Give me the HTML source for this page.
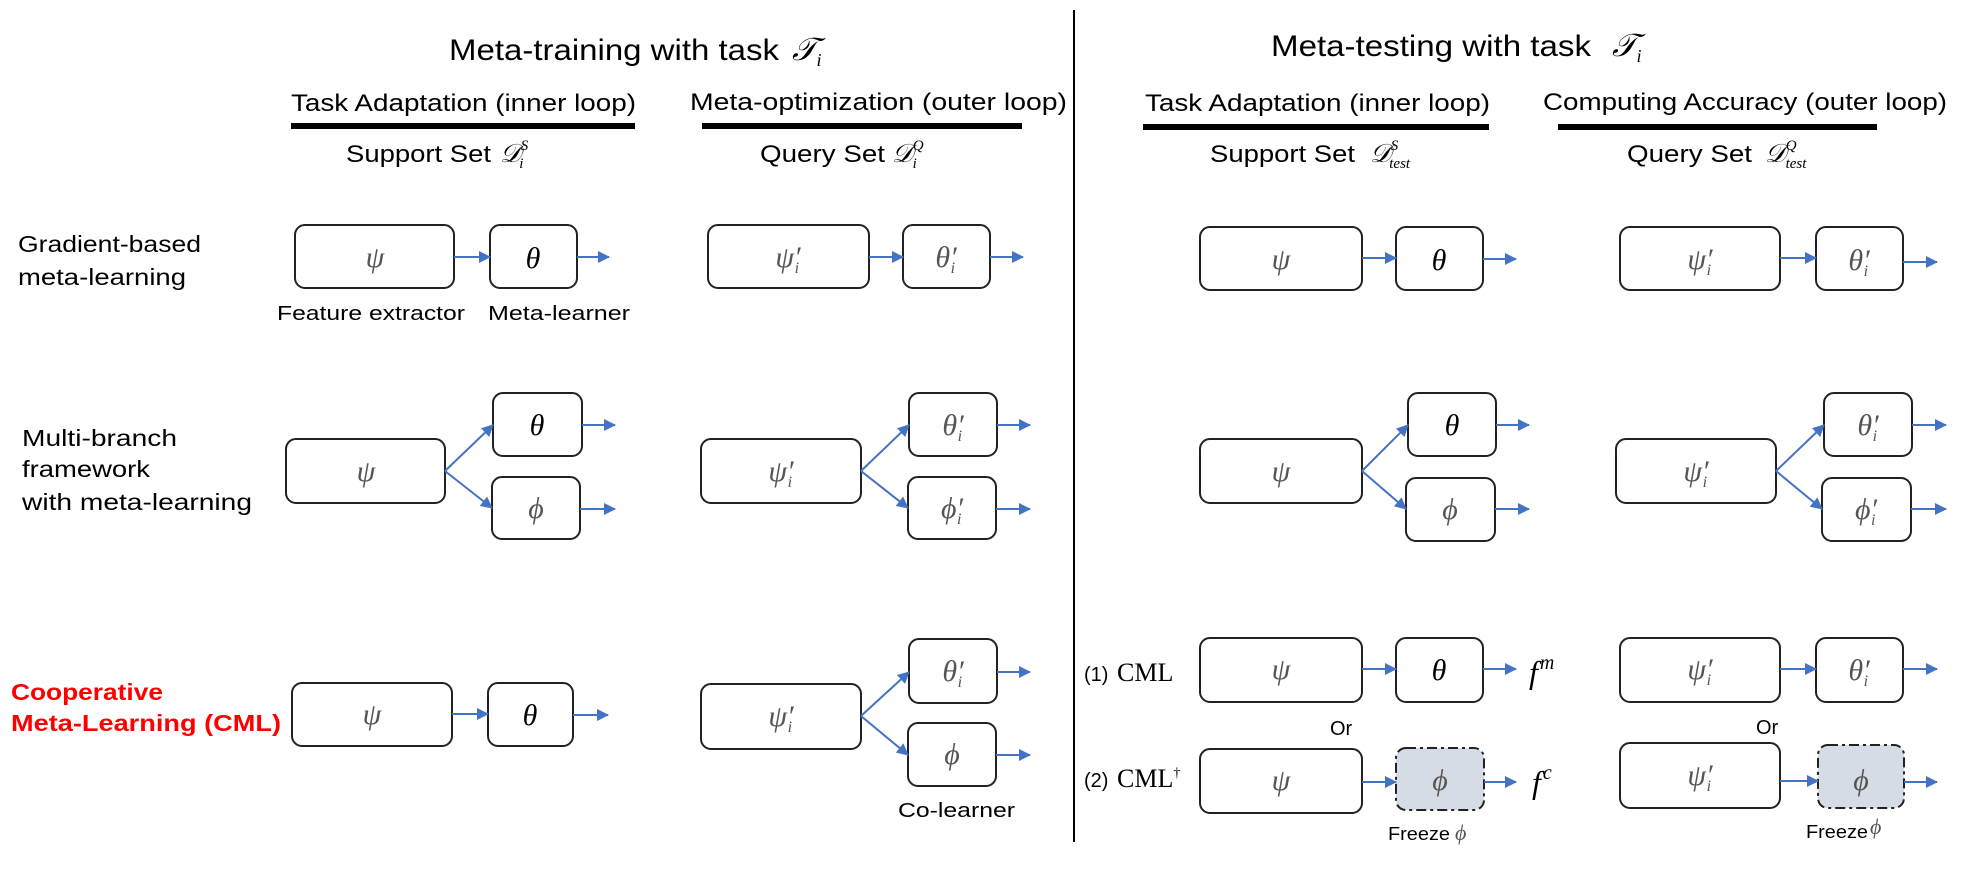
<!DOCTYPE html>
<html><head><meta charset="utf-8"><style>
html,body{margin:0;padding:0;background:#fff;}
svg{display:block}
text{font-family:"Liberation Sans",sans-serif;fill:#000}
.m{font-family:"Liberation Serif",serif;font-style:italic}
.g{fill:#555}
</style></head><body>
<svg width="1980" height="882" viewBox="0 0 1980 882" xmlns="http://www.w3.org/2000/svg">
<defs>
<marker id="a" markerWidth="12" markerHeight="12" refX="11" refY="6" orient="auto" markerUnits="userSpaceOnUse" viewBox="0 0 12 12"><path d="M0,0L12,6L0,12z" fill="#4472c4"/></marker>
</defs>
<line x1="1074" y1="10" x2="1074" y2="842" stroke="#000" stroke-width="2"/>
<text x="449" y="60" font-size="30" textLength="330" lengthAdjust="spacingAndGlyphs">Meta-training with task</text>
<text x="792" y="60" font-size="32" class="m">𝒯<tspan font-size="18" dy="6">i</tspan></text>
<text x="1271" y="56" font-size="30" textLength="320" lengthAdjust="spacingAndGlyphs">Meta-testing with task</text>
<text x="1612" y="56" font-size="32" class="m">𝒯<tspan font-size="18" dy="6">i</tspan></text>
<text x="291" y="111" font-size="24" textLength="345" lengthAdjust="spacingAndGlyphs">Task Adaptation (inner loop)</text>
<text x="690" y="110" font-size="24" textLength="377" lengthAdjust="spacingAndGlyphs">Meta-optimization (outer loop)</text>
<text x="1145" y="111" font-size="24" textLength="345" lengthAdjust="spacingAndGlyphs">Task Adaptation (inner loop)</text>
<text x="1543" y="110" font-size="24" textLength="404" lengthAdjust="spacingAndGlyphs">Computing Accuracy (outer loop)</text>
<rect x="291" y="123" width="344" height="6"/>
<rect x="702" y="123" width="320" height="6"/>
<rect x="1143" y="124" width="346" height="6"/>
<rect x="1558" y="124" width="319" height="6"/>
<text x="346" y="162" font-size="24" textLength="145" lengthAdjust="spacingAndGlyphs">Support Set</text>
<text x="500" y="162" font-size="26" class="m">𝒟<tspan font-size="15" dy="-12">S</tspan><tspan font-size="15" dx="-9" dy="18">i</tspan></text>
<text x="760" y="162" font-size="24" textLength="125" lengthAdjust="spacingAndGlyphs">Query Set</text>
<text x="892" y="162" font-size="26" class="m">𝒟<tspan font-size="15" dy="-12">Q</tspan><tspan font-size="15" dx="-11" dy="18">i</tspan></text>
<text x="1210" y="162" font-size="24" textLength="145" lengthAdjust="spacingAndGlyphs">Support Set</text>
<text x="1370" y="162" font-size="26" class="m">𝒟<tspan font-size="15" dy="-12">S</tspan><tspan font-size="15" dx="-9" dy="18">test</tspan></text>
<text x="1627" y="162" font-size="24" textLength="125" lengthAdjust="spacingAndGlyphs">Query Set</text>
<text x="1765" y="162" font-size="26" class="m">𝒟<tspan font-size="15" dy="-12">Q</tspan><tspan font-size="15" dx="-11" dy="18">test</tspan></text>
<text x="18" y="252" font-size="23" textLength="183" lengthAdjust="spacingAndGlyphs">Gradient-based</text>
<text x="18" y="285" font-size="23" textLength="168" lengthAdjust="spacingAndGlyphs">meta-learning</text>
<text x="22" y="446" font-size="23" textLength="155" lengthAdjust="spacingAndGlyphs">Multi-branch</text>
<text x="22" y="477" font-size="23" textLength="128" lengthAdjust="spacingAndGlyphs">framework</text>
<text x="22" y="510" font-size="23" textLength="230" lengthAdjust="spacingAndGlyphs">with meta-learning</text>
<text x="11" y="700" font-size="23" font-weight="bold" style="fill:#f00" textLength="152" lengthAdjust="spacingAndGlyphs">Cooperative</text>
<text x="11" y="731" font-size="23" font-weight="bold" style="fill:#f00" textLength="270" lengthAdjust="spacingAndGlyphs">Meta-Learning (CML)</text>
<g fill="#fff" stroke="#222" stroke-width="2">
<rect x="295" y="225" width="159" height="63" rx="10"/>
<rect x="490" y="225" width="87" height="63" rx="10"/>
<rect x="708" y="225" width="161" height="63" rx="10"/>
<rect x="903" y="225" width="87" height="63" rx="10"/>
<rect x="1200" y="227" width="162" height="63" rx="10"/>
<rect x="1396" y="227" width="87" height="63" rx="10"/>
<rect x="1620" y="227" width="160" height="63" rx="10"/>
<rect x="1816" y="227" width="87" height="63" rx="10"/>
<rect x="286" y="439" width="159" height="64" rx="10"/>
<rect x="493" y="393" width="89" height="63" rx="10"/>
<rect x="492" y="477" width="88" height="62" rx="10"/>
<rect x="701" y="439" width="160" height="64" rx="10"/>
<rect x="909" y="393" width="88" height="63" rx="10"/>
<rect x="908" y="477" width="88" height="62" rx="10"/>
<rect x="1200" y="439" width="162" height="64" rx="10"/>
<rect x="1408" y="393" width="88" height="63" rx="10"/>
<rect x="1406" y="478" width="89" height="63" rx="10"/>
<rect x="1616" y="439" width="160" height="64" rx="10"/>
<rect x="1824" y="393" width="88" height="63" rx="10"/>
<rect x="1822" y="478" width="89" height="63" rx="10"/>
<rect x="292" y="683" width="160" height="63" rx="10"/>
<rect x="488" y="683" width="85" height="63" rx="10"/>
<rect x="701" y="684" width="160" height="65" rx="10"/>
<rect x="909" y="639" width="88" height="64" rx="10"/>
<rect x="908" y="723" width="88" height="63" rx="10"/>
<rect x="1200" y="638" width="162" height="64" rx="10"/>
<rect x="1396" y="638" width="87" height="64" rx="10"/>
<rect x="1620" y="638" width="160" height="64" rx="10"/>
<rect x="1816" y="638" width="87" height="64" rx="10"/>
<rect x="1200" y="749" width="162" height="64" rx="10"/>
<rect x="1620" y="743" width="160" height="65" rx="10"/>
</g>
<g fill="#d6dce5" stroke="#222" stroke-width="2" stroke-dasharray="10,4,3,4">
<rect x="1396" y="748" width="88" height="62" rx="10"/>
<rect x="1818" y="745" width="86" height="63" rx="10"/>
</g>
<g stroke="#4472c4" stroke-width="2" marker-end="url(#a)" fill="none">
<line x1="454" y1="257" x2="490" y2="257"/><line x1="577" y1="257" x2="609" y2="257"/>
<line x1="869" y1="257" x2="903" y2="257"/><line x1="990" y1="257" x2="1023" y2="257"/>
<line x1="1362" y1="258" x2="1396" y2="258"/><line x1="1483" y1="259" x2="1516" y2="259"/>
<line x1="1780" y1="258" x2="1816" y2="258"/><line x1="1903" y1="262" x2="1937" y2="262"/>
<line x1="445" y1="471" x2="493" y2="425"/><line x1="445" y1="471" x2="492" y2="508"/>
<line x1="582" y1="425" x2="615" y2="425"/><line x1="580" y1="509" x2="615" y2="509"/>
<line x1="861" y1="471" x2="909" y2="425"/><line x1="861" y1="471" x2="908" y2="508"/>
<line x1="997" y1="425" x2="1030" y2="425"/><line x1="996" y1="509" x2="1030" y2="509"/>
<line x1="1362" y1="471" x2="1408" y2="425"/><line x1="1362" y1="471" x2="1406" y2="509"/>
<line x1="1496" y1="425" x2="1529" y2="425"/><line x1="1495" y1="509" x2="1529" y2="509"/>
<line x1="1776" y1="471" x2="1824" y2="425"/><line x1="1776" y1="471" x2="1822" y2="509"/>
<line x1="1912" y1="425" x2="1946" y2="425"/><line x1="1911" y1="509" x2="1946" y2="509"/>
<line x1="452" y1="714" x2="488" y2="714"/><line x1="573" y1="715" x2="608" y2="715"/>
<line x1="861" y1="716" x2="909" y2="672"/><line x1="861" y1="716" x2="908" y2="755"/>
<line x1="997" y1="672" x2="1030" y2="672"/><line x1="996" y1="755" x2="1030" y2="755"/>
<line x1="1362" y1="669" x2="1396" y2="669"/><line x1="1483" y1="669" x2="1516" y2="669"/>
<line x1="1780" y1="669" x2="1816" y2="669"/><line x1="1903" y1="669" x2="1937" y2="669"/>
<line x1="1362" y1="782" x2="1396" y2="782"/><line x1="1484" y1="782" x2="1516" y2="782"/>
<line x1="1780" y1="781" x2="1818" y2="781"/><line x1="1904" y1="782" x2="1937" y2="782"/>
</g>
<g class="m" font-size="30" text-anchor="middle">
<text x="375" y="267" class="m g">ψ</text><text x="533" y="268" class="m">θ</text>
<text x="788" y="267" class="m g">ψ′<tspan font-size="16" dx="-6" dy="6">i</tspan></text><text x="946" y="267" class="m g">θ′<tspan font-size="16" dx="-6" dy="6">i</tspan></text>
<text x="1281" y="269" class="m g">ψ</text><text x="1439" y="270" class="m">θ</text>
<text x="1700" y="269" class="m g">ψ′<tspan font-size="16" dx="-6" dy="6">i</tspan></text><text x="1859" y="270" class="m g">θ′<tspan font-size="16" dx="-6" dy="6">i</tspan></text>
<text x="366" y="481" class="m g">ψ</text><text x="537" y="435" class="m">θ</text><text x="536" y="518" class="m g">ϕ</text>
<text x="781" y="481" class="m g">ψ′<tspan font-size="16" dx="-6" dy="6">i</tspan></text><text x="953" y="435" class="m g">θ′<tspan font-size="16" dx="-6" dy="6">i</tspan></text><text x="952" y="518" class="m g">ϕ′<tspan font-size="16" dx="-6" dy="6">i</tspan></text>
<text x="1281" y="481" class="m g">ψ</text><text x="1452" y="435" class="m">θ</text><text x="1450" y="519" class="m g">ϕ</text>
<text x="1696" y="481" class="m g">ψ′<tspan font-size="16" dx="-6" dy="6">i</tspan></text><text x="1868" y="435" class="m g">θ′<tspan font-size="16" dx="-6" dy="6">i</tspan></text><text x="1866" y="519" class="m g">ϕ′<tspan font-size="16" dx="-6" dy="6">i</tspan></text>
<text x="372" y="724" class="m g">ψ</text><text x="530" y="725" class="m">θ</text>
<text x="781" y="726" class="m g">ψ′<tspan font-size="16" dx="-6" dy="6">i</tspan></text><text x="953" y="681" class="m g">θ′<tspan font-size="16" dx="-6" dy="6">i</tspan></text><text x="952" y="764" class="m g">ϕ</text>
<text x="1281" y="679" class="m g">ψ</text><text x="1439" y="680" class="m">θ</text>
<text x="1700" y="679" class="m g">ψ′<tspan font-size="16" dx="-6" dy="6">i</tspan></text><text x="1859" y="680" class="m g">θ′<tspan font-size="16" dx="-6" dy="6">i</tspan></text>
<text x="1281" y="790" class="m g">ψ</text><text x="1440" y="790" class="m g">ϕ</text>
<text x="1700" y="785" class="m g">ψ′<tspan font-size="16" dx="-6" dy="6">i</tspan></text><text x="1861" y="790" class="m g">ϕ</text>
</g>
<text x="1529" y="683" font-size="32" class="m">f<tspan font-size="20" dx="2" dy="-14">m</tspan></text>
<text x="1532" y="793" font-size="32" class="m">f<tspan font-size="20" dx="2" dy="-14">c</tspan></text>
<text x="277" y="320" font-size="20" textLength="188" lengthAdjust="spacingAndGlyphs">Feature extractor</text>
<text x="488" y="320" font-size="20" textLength="142" lengthAdjust="spacingAndGlyphs">Meta-learner</text>
<text x="898" y="817" font-size="20" textLength="117" lengthAdjust="spacingAndGlyphs">Co-learner</text>
<text x="1084" y="681" font-size="20">(1) </text><text x="1117" y="681" font-size="26" style="font-family:'Liberation Serif',serif">CML</text>
<text x="1084" y="787" font-size="20">(2) </text><text x="1117" y="787" font-size="26" style="font-family:'Liberation Serif',serif">CML<tspan font-size="14" dy="-10">†</tspan></text>
<text x="1330" y="735" font-size="20">Or</text>
<text x="1756" y="734" font-size="20">Or</text>
<text x="1388" y="840" font-size="18" textLength="62" lengthAdjust="spacingAndGlyphs">Freeze</text><text x="1455" y="840" font-size="22" class="m g">ϕ</text>
<text x="1806" y="838" font-size="18" textLength="62" lengthAdjust="spacingAndGlyphs">Freeze</text><text x="1870" y="834" font-size="22" class="m g">ϕ</text>
</svg>
</body></html>
